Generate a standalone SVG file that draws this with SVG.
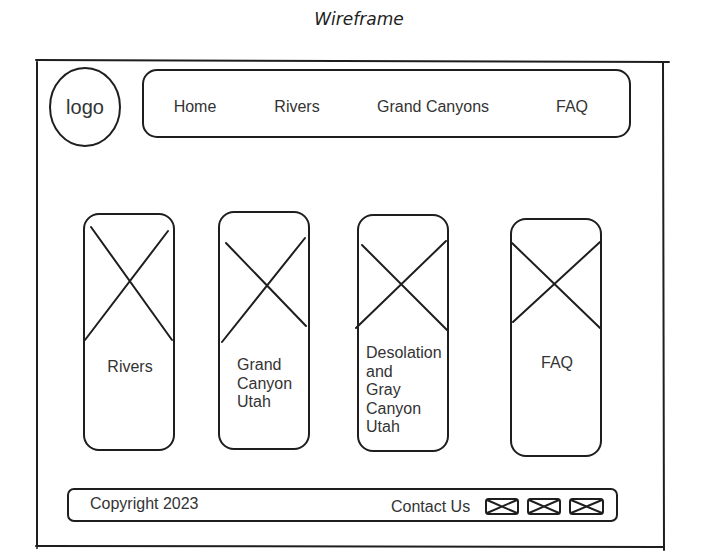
<svg xmlns="http://www.w3.org/2000/svg" width="710" height="558" viewBox="0 0 710 558">
<style>
.s{fill:none;stroke:#1e1e1e;stroke-width:2;stroke-linecap:round}
.t{font-family:"Liberation Sans",Arial,sans-serif;font-size:16px;fill:#333}
.ttl{font-family:"DejaVu Sans",sans-serif;font-size:17px;fill:#222;font-style:italic}
</style>
<rect width="710" height="558" fill="#fff"/>
<text class="ttl" x="359" y="25" text-anchor="middle">Wireframe</text>
<g id="frame">
<path class="s" d="M36 60 L669 62 M37 60 L37 548 M663 62 L664 550 M36 546 L664 547"/>
</g>
<g id="logo">
<ellipse class="s" cx="85" cy="107" rx="35" ry="39"/>
<text class="t" x="85" y="114" text-anchor="middle" style="font-size:20px">logo</text>
</g>
<g id="nav">
<rect class="s" x="143" y="70" width="487" height="67" rx="14"/>
<text class="t" x="195" y="112" text-anchor="middle">Home</text>
<text class="t" x="297" y="112" text-anchor="middle">Rivers</text>
<text class="t" x="433" y="112" text-anchor="middle">Grand Canyons</text>
<text class="t" x="572" y="112" text-anchor="middle">FAQ</text>
</g>
<g id="card-rivers">
<rect class="s" x="84" y="214" width="90" height="236" rx="15"/>
<path class="s" d="M91 227 L172 340 M168 231 L85 340"/>
<text class="t" x="130" y="372" text-anchor="middle">Rivers</text>
</g>
<g id="card-grand-canyon">
<rect class="s" x="219" y="212" width="90" height="237" rx="15"/>
<path class="s" d="M226 243 L306 326 M305 238 L222 342"/>
<text class="t" x="237" y="370">Grand</text>
<text class="t" x="237" y="389">Canyon</text>
<text class="t" x="237" y="407">Utah</text>
</g>
<g id="card-desolation">
<rect class="s" x="358" y="215" width="90" height="236" rx="15"/>
<path class="s" d="M362 245 L447 330 M446 241 L356 328"/>
<text class="t" x="366" y="358">Desolation</text>
<text class="t" x="366" y="377">and</text>
<text class="t" x="366" y="395">Gray</text>
<text class="t" x="366" y="414">Canyon</text>
<text class="t" x="366" y="432">Utah</text>
</g>
<g id="card-faq">
<rect class="s" x="511" y="219" width="90" height="237" rx="15"/>
<path class="s" d="M512 243 L600 328 M600 242 L513 322"/>
<text class="t" x="557" y="368" text-anchor="middle">FAQ</text>
</g>
<g id="footer">
<rect class="s" x="68" y="489" width="549" height="32" rx="6"/>
<text class="t" x="90" y="509">Copyright 2023</text>
<text class="t" x="391" y="512">Contact Us</text>
</g>
<g id="icons">
<rect class="s" x="486" y="499" width="32" height="15" rx="2.5"/>
<path class="s" d="M487 500 L517 513 M517 500 L487 513"/>
<rect class="s" x="528" y="499" width="32" height="15" rx="2.5"/>
<path class="s" d="M529 500 L559 513 M559 500 L529 513"/>
<rect class="s" x="570" y="499" width="33" height="15" rx="2.5"/>
<path class="s" d="M571 500 L602 513 M602 500 L571 513"/>
</g>
</svg>
